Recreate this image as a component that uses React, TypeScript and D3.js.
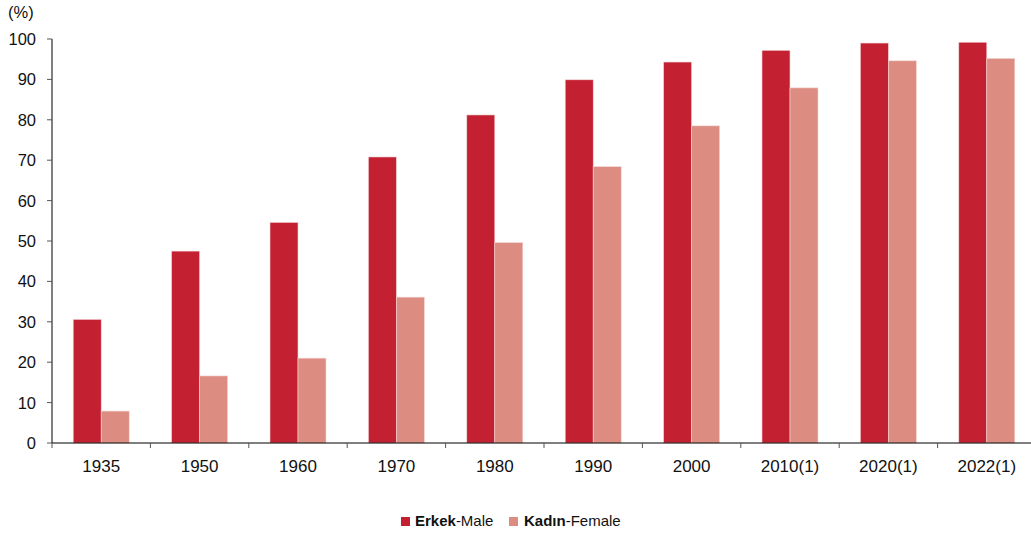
import React from "react";
import * as d3 from "d3";

const categories = ["1935", "1950", "1960", "1970", "1980", "1990", "2000", "2010(1)", "2020(1)", "2022(1)"];
const maleValues = [30.6, 47.5, 54.6, 70.8, 81.2, 89.9, 94.3, 97.2, 99.0, 99.2];
const femaleValues = [7.9, 16.6, 21.0, 36.1, 49.6, 68.4, 78.5, 87.9, 94.6, 95.2];
const yTicks = [0, 10, 20, 30, 40, 50, 60, 70, 80, 90, 100];

const W = 1031;
const H = 537;
const left = 52;
const right = 1036;
const top = 39;
const bottom = 443;
const MALE = "#C32032";
const FEMALE = "#DC8C80";
const FONT = "'Liberation Sans', Arial, sans-serif";

export default function App() {
  const x = d3.scaleBand<string>().domain(categories).range([left, right]).paddingInner(0).paddingOuter(0);
  const y = d3.scaleLinear().domain([0, 100]).range([bottom, top]);
  const bw = 28;
  const series = [
    { key: "m", values: maleValues, color: MALE, off: -bw },
    { key: "f", values: femaleValues, color: FEMALE, off: 0 },
  ];
  return (
    <svg width={W} height={H} style={{ position: "absolute", left: 0, top: 0, fontFamily: FONT }}>
      <rect x={0} y={0} width={W} height={H} fill="#fff" />
      {series.map((s) =>
        s.values.map((v, i) => {
          const cx = (x(categories[i]) as number) + x.bandwidth() / 2;
          return (
            <rect
              key={s.key + i}
              x={cx + s.off}
              y={y(v)}
              width={bw}
              height={bottom - y(v)}
              fill={s.color}
              stroke="#f3d6d6"
              strokeWidth={0.6}
            />
          );
        })
      )}
      {/* y axis */}
      <line x1={left} x2={left} y1={top} y2={bottom} stroke="#000" strokeWidth={1} />
      {yTicks.map((t) => (
        <g key={t}>
          <line x1={left - 5} x2={left} y1={y(t)} y2={y(t)} stroke="#555" strokeWidth={1} />
          <text x={36} y={y(t)} dy="0.36em" textAnchor="end" fontSize={16.5} fill="#111">
            {t}
          </text>
        </g>
      ))}
      <text x={8} y={18} fontSize={16.5} fill="#111">(%)</text>
      {/* x axis */}
      <line x1={left} x2={right} y1={bottom} y2={bottom} stroke="#000" strokeWidth={1.2} />
      {categories.map((c, i) => (
        <line
          key={"t" + i}
          x1={(x(c) as number)}
          x2={(x(c) as number)}
          y1={bottom}
          y2={bottom + 5}
          stroke="#555"
          strokeWidth={1}
        />
      ))}
      {categories.map((c) => (
        <text
          key={"l" + c}
          x={(x(c) as number) + x.bandwidth() / 2}
          y={472}
          textAnchor="middle"
          fontSize={17}
          fill="#111"
        >
          {c}
        </text>
      ))}
      {/* legend */}
      <rect x={401} y={517} width={9} height={9} fill={MALE} />
      <text x={415} y={526} fontSize={15} fill="#111">
        <tspan fontWeight="bold">Erkek</tspan>
        <tspan>-Male</tspan>
      </text>
      <rect x={509} y={517} width={9} height={9} fill={FEMALE} />
      <text x={524} y={526} fontSize={15} fill="#111">
        <tspan fontWeight="bold">Kadın</tspan>
        <tspan>-Female</tspan>
      </text>
    </svg>
  );
}
